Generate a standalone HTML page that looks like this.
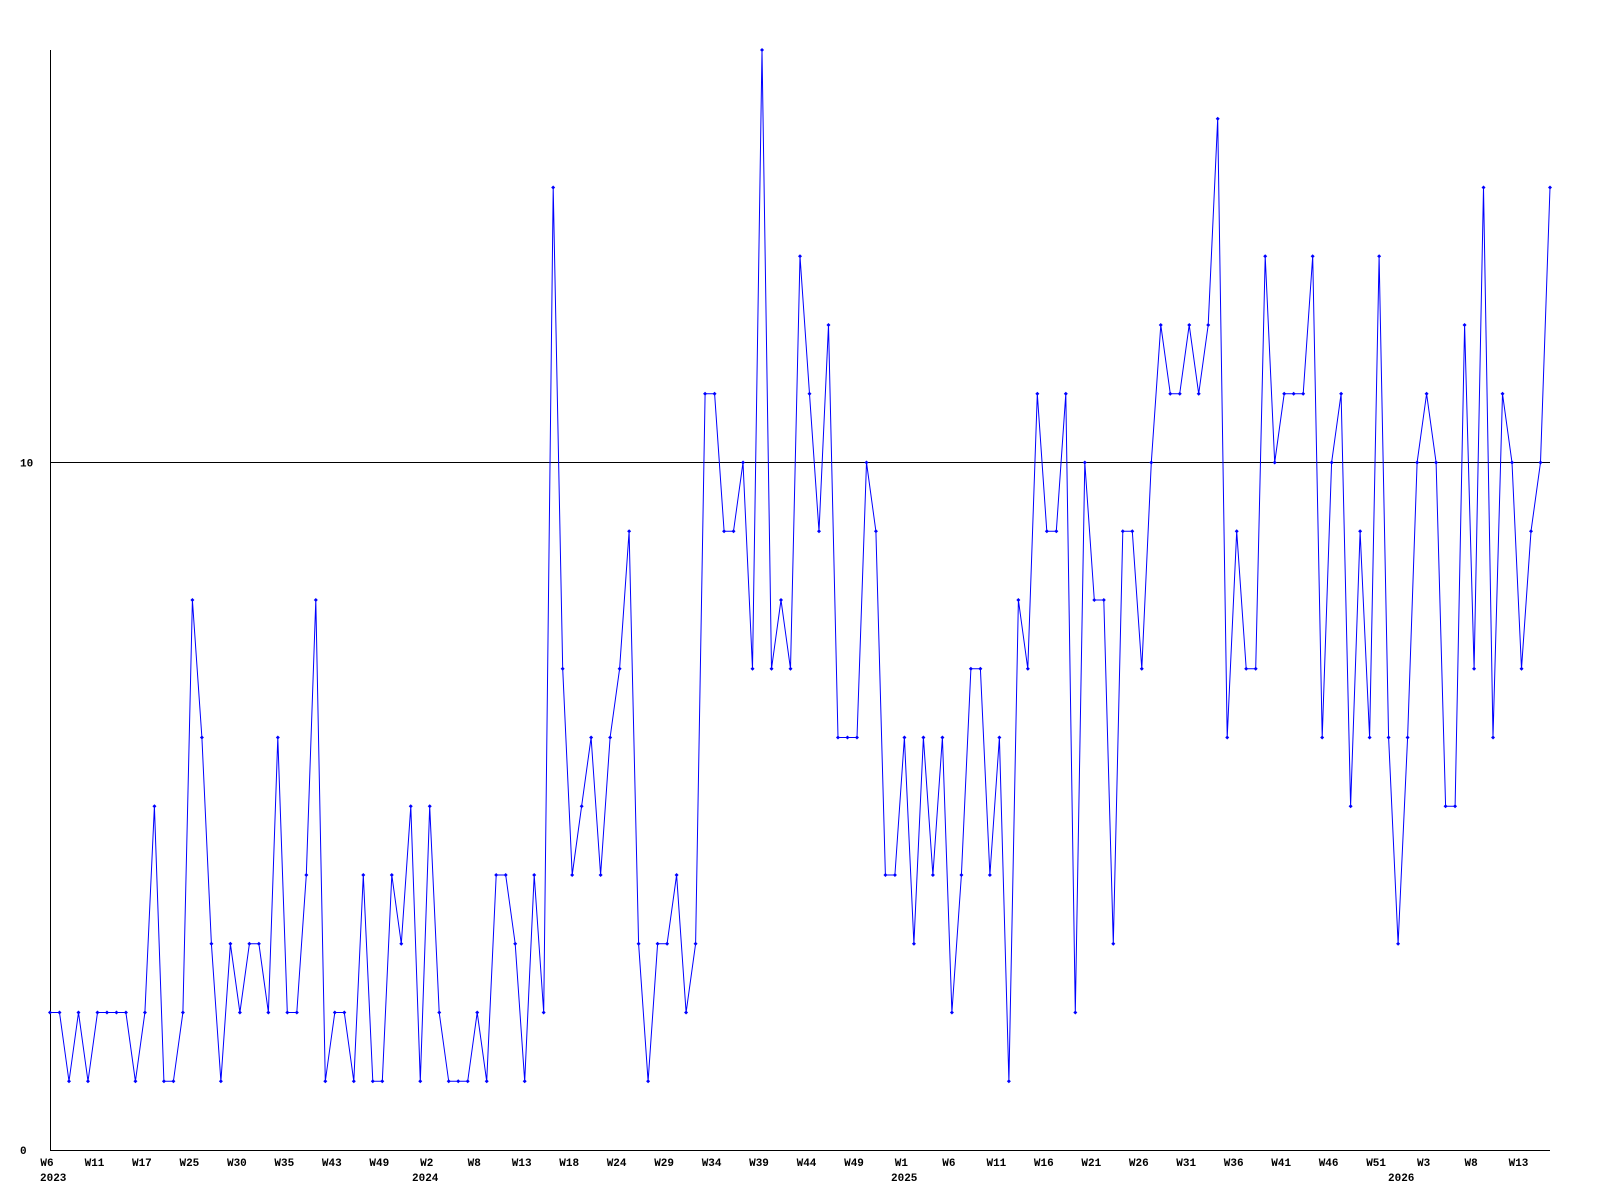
<!DOCTYPE html>
<html><head><meta charset="utf-8"><style>html,body{margin:0;padding:0;background:#fff}svg{display:block}</style></head>
<body>
<svg id="c" width="1600" height="1200" xmlns="http://www.w3.org/2000/svg" font-family="Liberation Mono, monospace" font-weight="bold" font-size="11"></svg>
<script>
const v=[2,2,1,2,1,2,2,2,2,1,2,5,1,1,2,8,6,3,1,3,2,3,3,2,6,2,2,4,8,1,2,2,1,4,1,1,4,3,5,1,5,2,1,1,1,2,1,4,4,3,1,4,2,14,7,4,5,6,4,6,7,9,3,1,3,3,4,2,3,11,11,9,9,10,7,16,7,8,7,13,11,9,12,6,6,6,10,9,4,4,6,3,6,4,6,2,4,7,7,4,6,1,8,7,11,9,9,11,2,10,8,8,3,9,9,7,10,12,11,11,12,11,12,15,6,9,7,7,13,10,11,11,11,13,6,10,11,5,9,6,13,6,3,6,10,11,10,5,5,12,7,14,6,11,10,7,9,10,14];
const labs=["W6","W11","W17","W25","W30","W35","W43","W49","W2","W8","W13","W18","W24","W29","W34","W39","W44","W49","W1","W6","W11","W16","W21","W26","W31","W36","W41","W46","W51","W3","W8","W13"];
const X=i=>50+i*1500/158, Y=d=>1150-d*68.75;
let s='';
s+=`<line x1="50" y1="${Y(10)}" x2="1550" y2="${Y(10)}" stroke="#000" stroke-width="1"/>`;
s+=`<line x1="50.5" y1="50" x2="50.5" y2="1150" stroke="#000" stroke-width="1"/>`;
s+=`<line x1="50" y1="1150.5" x2="1550" y2="1150.5" stroke="#000" stroke-width="1"/>`;
s+=`<polyline fill="none" stroke="#0000ff" stroke-width="1" points="${v.map((d,i)=>X(i).toFixed(1)+','+Y(d).toFixed(1)).join(' ')}"/>`;
v.forEach((d,i)=>{const x=X(i),y=Y(d);s+=`<path d="M${x-2} ${y}L${x} ${y-2}L${x+2} ${y}L${x} ${y+2}Z" fill="#0000ff"/>`;});
labs.forEach((l,k)=>{s+=`<text x="${(X(k*5)-3).toFixed(1)}" y="1166" text-anchor="middle">${l}</text>`;});
[["2023",40],["2024",412],["2025",891],["2026",1388]].forEach(([t,x])=>{s+=`<text x="${x}" y="1181">${t}</text>`;});
s+=`<text x="20" y="1154">0</text><text x="20" y="${Y(10)+4}">10</text>`;
document.getElementById('c').innerHTML=s;
</script>
</body></html>
